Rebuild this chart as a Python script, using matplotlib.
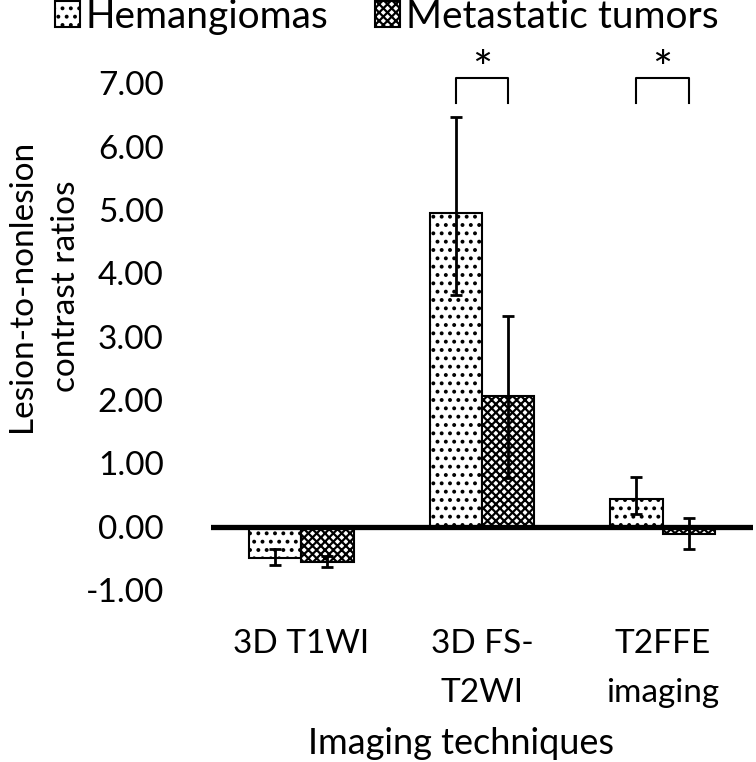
import matplotlib.pyplot as plt
import numpy as np

plt.rcParams['font.family'] = ['Lato', 'DejaVu Sans']
plt.rcParams['hatch.linewidth'] = 1.6

categories = ['3D T1WI', '3D FS-\nT2WI', 'T2FFE\nimaging']
hem_values = [-0.50, 4.95, 0.44]
hem_err_low = [0.11, 1.30, 0.24]
hem_err_high = [0.15, 1.52, 0.35]
met_values = [-0.55, 2.06, -0.11]
met_err_low = [0.08, 1.29, 0.24]
met_err_high = [0.08, 1.26, 0.25]
yticks = [-1, 0, 1, 2, 3, 4, 5, 6, 7]

# categories with a significant difference (bracket + star)
sig_groups = [1, 2]


def main():
    fig = plt.figure(figsize=(7.56, 7.62), dpi=100)
    ax = fig.add_axes([0.279, 0.2257, 0.717, 0.665])

    x = np.arange(len(categories))
    w = 0.29
    ax.bar(x - w / 2, hem_values, w, color='white', edgecolor='black',
           hatch='..', linewidth=1.5, label='Hemangiomas', zorder=2)
    ax.bar(x + w / 2, met_values, w, color='white', edgecolor='black',
           hatch='xxxx', linewidth=1.5, label='Metastatic tumors', zorder=2)
    err_style = dict(fmt='none', ecolor='black', elinewidth=2, capsize=4.5,
                     capthick=2, zorder=3)
    ax.errorbar(x - w / 2, hem_values, yerr=[hem_err_low, hem_err_high],
                **err_style)
    ax.errorbar(x + w / 2, met_values, yerr=[met_err_low, met_err_high],
                **err_style)

    ax.axhline(0, color='black', linewidth=3.8, zorder=4)

    for g in sig_groups:
        x0, x1 = g - w / 2, g + w / 2
        ax.plot([x0, x0, x1, x1], [6.69, 7.09, 7.09, 6.69], color='black',
                linewidth=1.5, clip_on=False)
        ax.text(g, 7.2, '*', ha='center', va='center', fontsize=34,
                clip_on=False)

    ax.set_xlim(-0.5, 2.5)
    ax.set_ylim(-1, 7)
    ax.set_yticks(yticks)
    ax.set_yticklabels([f'{v:.2f}' for v in yticks], fontsize=24)
    ax.set_xticks(x)
    ax.set_xticklabels(categories, fontsize=24, linespacing=1.8)
    ax.tick_params(axis='y', length=0, pad=34)
    ax.tick_params(axis='x', length=0, pad=28)
    for s in ax.spines.values():
        s.set_visible(False)

    fig.text(461 / 756, 1 - 744 / 762, 'Imaging techniques', fontsize=26,
             ha='center', va='center')
    fig.text(44 / 756, 1 - 286 / 762, 'Lesion-to-nonlesion\ncontrast ratios',
             fontsize=24, rotation=90, ha='center', va='center',
             multialignment='center', linespacing=1.55)

    fig.legend(loc='center left', bbox_to_anchor=(55 / 756, 1 - 17 / 762),
               ncol=2, frameon=False, fontsize=28, handlelength=0.64,
               handleheight=0.64, handletextpad=0.15, columnspacing=1.2,
               borderpad=0, borderaxespad=0)

    fig.savefig('out.png', dpi=100)


if __name__ == '__main__':
    main()
